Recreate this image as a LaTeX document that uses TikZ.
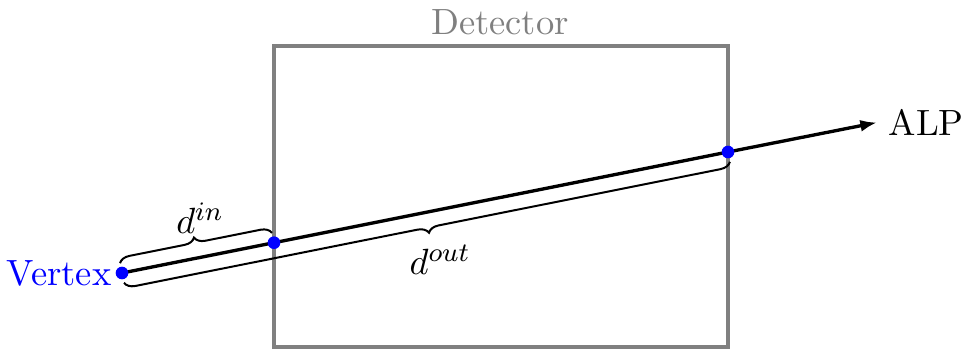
\documentclass[tikz,border=0pt]{standalone}
\usepackage{xcolor}
\usepackage{tikz}
\usetikzlibrary{decorations.pathreplacing,arrows.meta}

\begin{document}
\begin{tikzpicture}[x=30pt,y=30pt,font=\fontsize{10.95}{13.6}\selectfont,
  dot/.style={circle,fill=blue,inner sep=0pt,minimum size=3.8pt},
  brace/.style={decorate,semithick,decoration={brace,amplitude=3.2pt,raise=3pt}}]
\useasboundingbox (0,0) rectangle (9.66,3.49);
\draw[line width=1pt,gray] (2.74,0.02) rectangle (7.28,3.03);
\node[gray] (det) at (5.00,3.27) {Detector};
\coordinate (vtx) at (1.22,0.76);
\coordinate (din) at (2.74,1.063);
\coordinate (dout) at (7.28,1.97);
\coordinate (tip) at (8.77,2.265);
\node[blue,anchor=east,inner sep=3pt] (vlab) at (vtx) {Vertex};
\node[anchor=west] (alp) at (tip) {ALP};
\draw[line width=1pt,-{Latex[length=5pt,width=3.6pt]}] (vtx) -- (din) -- (dout) -- (tip);
\draw[brace] (vtx) -- (din);
\draw[brace,decoration={mirror}] (vtx) -- (dout);
\node[dot] (vtxdot) at (vtx) {};
\node[dot] (indot) at (din) {};
\node[dot] (outdot) at (dout) {};
\node (lin) at (2.00,1.31) {$d^{in}$};
\node (lout) at (4.40,0.89) {$d^{out}$};
\end{tikzpicture}
\end{document}
